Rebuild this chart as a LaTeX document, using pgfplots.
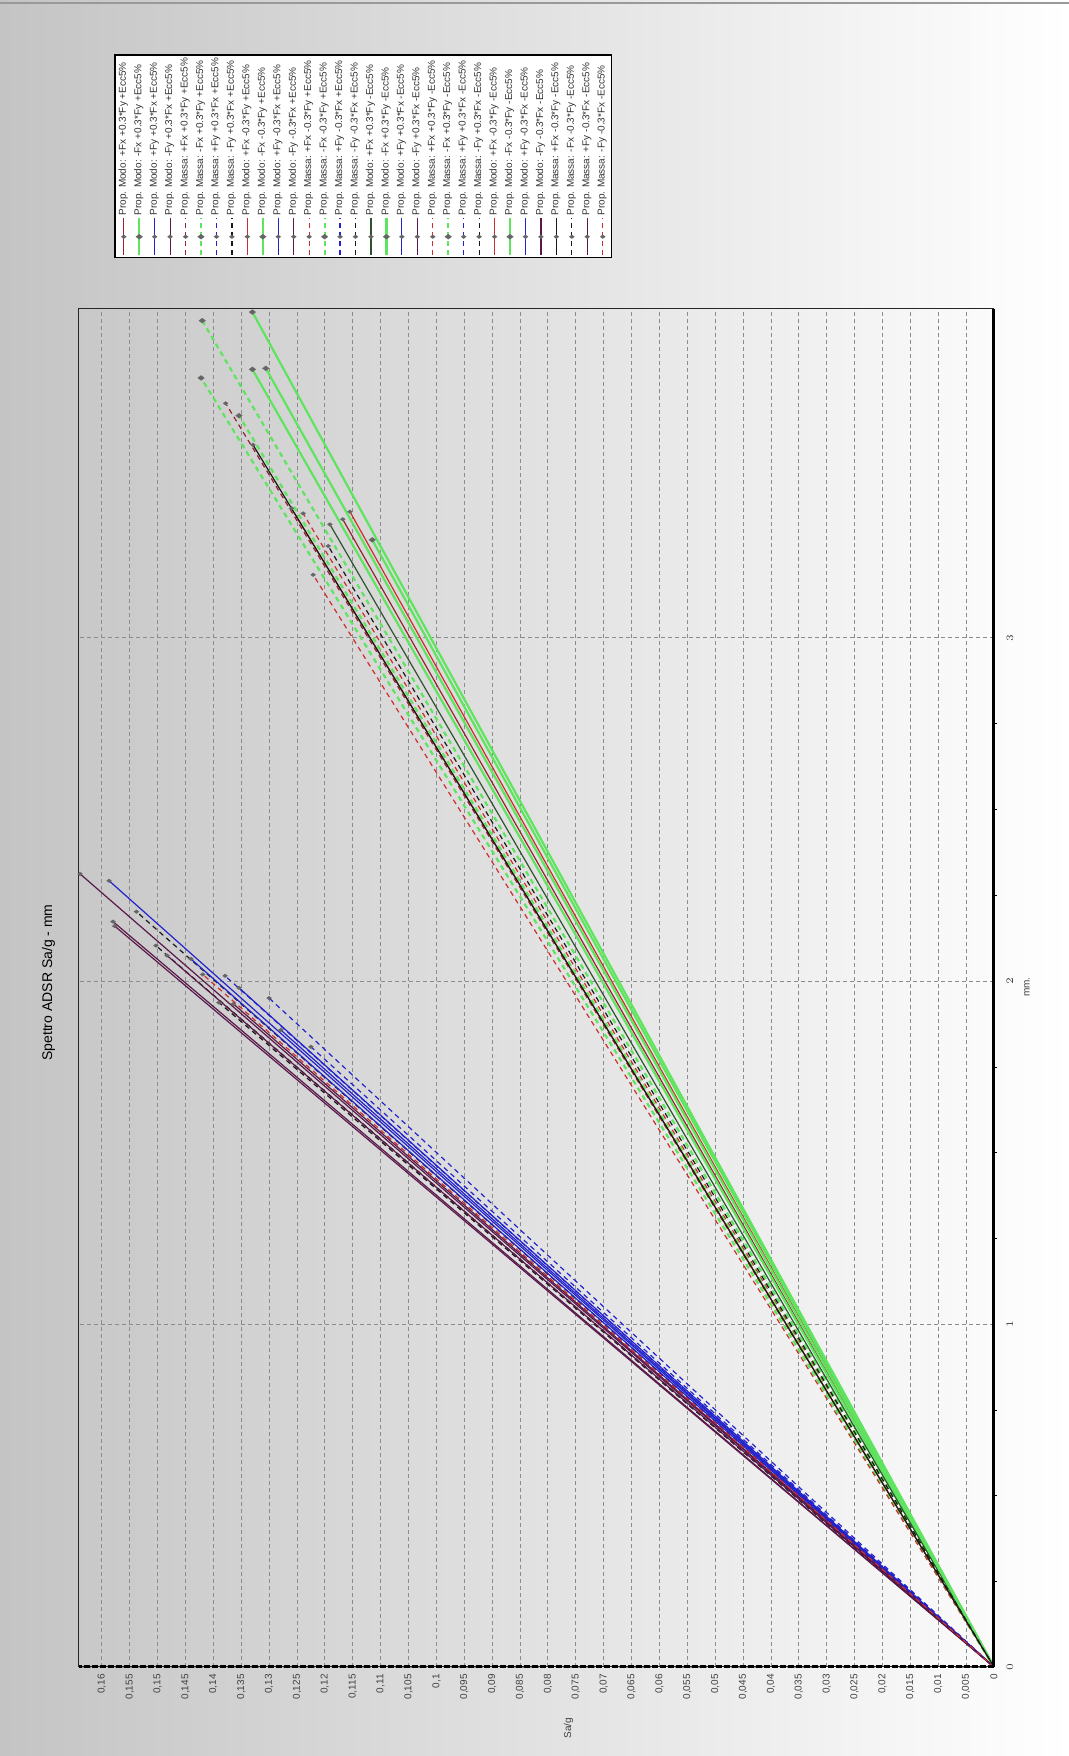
\documentclass[border=0pt]{standalone}
\usepackage{fontspec}
\setmainfont{Liberation Sans}
\usepackage{pgfplots}
\pgfplotsset{compat=1.18}
\definecolor{cDR}{RGB}{150,35,45}
\definecolor{cR}{RGB}{205,45,45}
\definecolor{cG}{RGB}{95,228,95}
\definecolor{cB}{RGB}{35,35,205}
\definecolor{cP}{RGB}{90,25,75}
\definecolor{cK}{RGB}{25,25,25}
\definecolor{cDG}{RGB}{45,85,45}
\definecolor{bgtop}{RGB}{196,196,196}
\pgfplotsset{
  sSol/.style={line width=0.6pt, mark=diamond*, mark size=0.9pt, mark indices={2}, mark options={solid, fill=black!60, draw=black!60}},
  sDash/.style={sSol, dash pattern=on 2.5pt off 2pt},
  sGr/.style={line width=1.1pt},
}
\begin{document}
\begin{tikzpicture}
\begin{scope}[transform canvas={rotate=90}]
\shade[top color=bgtop, bottom color=white] (0pt,0pt) rectangle (878pt,534.5pt);
\draw[gray!80, line width=0.8pt] (876.5pt,0pt) -- (876.5pt,534.5pt);
\begin{axis}[
  at={(44.5pt,37.5pt)}, anchor=south west,
  scale only axis, width=679pt, height=457.5pt,
  xmin=0, xmax=3.959, ymin=0, ymax=0.1641,
  clip=false,
  xtick={0,1,2,3}, minor x tick num=3,
  ytick={0,0.005,0.01,0.015,0.02,0.025,0.03,0.035,0.04,0.045,0.05,0.055,0.06,0.065,0.07,0.075,0.08,0.085,0.09,0.095,0.1,0.105,0.11,0.115,0.12,0.125,0.13,0.135,0.14,0.145,0.15,0.155,0.16},
  scaled y ticks=false,
  xtick pos=left, ytick pos=left,
  tick align=outside, major tick length=0pt, minor tick length=1.5pt,
  minor tick style={black},
  grid=major,
  major grid style={black!45, dash pattern=on 2pt off 1.5pt, line width=0.45pt},
  axis line style={black!85, line width=0.5pt},
  tick label style={font=\fontsize{5}{6}\selectfont, text=black!75},
  xticklabel style={anchor=center, yshift=-8pt},
  yticklabel style={anchor=east, inner sep=0pt, xshift=-3.5pt, /pgf/number format/.cd, fixed, use comma, precision=3, assume math mode=true},
  title={Spettro ADSR Sa/g - mm},
  title style={at={(axis description cs:0.504,1.0202)}, anchor=center, font=\fontsize{7}{8}\selectfont},
  xlabel={mm.},
  xlabel style={at={(axis description cs:0.5007,-0.036)}, anchor=center, font=\fontsize{5}{6}\selectfont, text=black!75},
  ylabel={Sa/g},
  ylabel style={rotate=-90, at={(axis description cs:-0.045,0.465)}, anchor=center, font=\fontsize{5}{6}\selectfont, text=black!75},
  legend image code/.code={\draw[mark repeat=2,mark phase=2,#1] plot coordinates {(0pt,0pt) (9.25pt,0pt) (18.5pt,0pt)};},
  legend cell align=left,
  legend style={at={(axis description cs:1.0373,0.9617)}, anchor=north west, draw=black, line width=0.8pt, fill=white, inner sep=0.6pt, row sep=0pt, font=\fontsize{5}{6}\selectfont, text=black!80, nodes={inner xsep=0.8pt, inner ysep=0pt, minimum height=7.725pt}},
]
\addplot[sSol, cDR] coordinates {(0,0) (3.346,0.1168)};
\addlegendentry{Prop. Modo: +Fx +0.3*Fy +Ecc5\%}
\addplot[sSol, sGr, cG] coordinates {(0,0) (3.950,0.1330)};
\addlegendentry{Prop. Modo: -Fx +0.3*Fy +Ecc5\%}
\addplot[sSol, cB] coordinates {(0,0) (2.292,0.1587)};
\addlegendentry{Prop. Modo: +Fy +0.3*Fx +Ecc5\%}
\addplot[sSol, cP] coordinates {(0,0) (2.312,0.1639)};
\addlegendentry{Prop. Modo: -Fy +0.3*Fx +Ecc5\%}
\addplot[sDash, cDR] coordinates {(0,0) (3.684,0.1378)};
\addlegendentry{Prop. Massa: +Fx +0.3*Fy +Ecc5\%}
\addplot[sDash, sGr, cG] coordinates {(0,0) (3.925,0.1420)};
\addlegendentry{Prop. Massa: -Fx +0.3*Fy +Ecc5\%}
\addplot[sDash, cB] coordinates {(0,0) (2.015,0.1379)};
\addlegendentry{Prop. Massa: +Fy +0.3*Fx +Ecc5\%}
\addplot[sDash, cK] coordinates {(0,0) (2.202,0.1538)};
\addlegendentry{Prop. Massa: -Fy +0.3*Fx +Ecc5\%}
\addplot[sSol, cR] coordinates {(0,0) (3.368,0.1155)};
\addlegendentry{Prop. Modo: +Fx -0.3*Fy +Ecc5\%}
\addplot[sSol, sGr, cG] coordinates {(0,0) (3.783,0.1330)};
\addlegendentry{Prop. Modo: -Fx -0.3*Fy +Ecc5\%}
\addplot[sSol, cB] coordinates {(0,0) (2.064,0.1440)};
\addlegendentry{Prop. Modo: +Fy -0.3*Fx +Ecc5\%}
\addplot[sSol, cP] coordinates {(0,0) (2.173,0.1580)};
\addlegendentry{Prop. Modo: -Fy -0.3*Fx +Ecc5\%}
\addplot[sDash, cR] coordinates {(0,0) (3.363,0.1239)};
\addlegendentry{Prop. Massa: +Fx -0.3*Fy +Ecc5\%}
\addplot[sDash, sGr, cG] coordinates {(0,0) (3.758,0.1422)};
\addlegendentry{Prop. Massa: -Fx -0.3*Fy +Ecc5\%}
\addplot[sDash, cB] coordinates {(0,0) (1.808,0.1225)};
\addlegendentry{Prop. Massa: +Fy -0.3*Fx +Ecc5\%}
\addplot[sDash, cK] coordinates {(0,0) (2.103,0.1503)};
\addlegendentry{Prop. Massa: -Fy -0.3*Fx +Ecc5\%}
\addplot[sSol, cDG] coordinates {(0,0) (3.331,0.1191)};
\addlegendentry{Prop. Modo: +Fx +0.3*Fy -Ecc5\%}
\addplot[sSol, sGr, cG] coordinates {(0,0) (3.786,0.1306)};
\addlegendentry{Prop. Modo: -Fx +0.3*Fy -Ecc5\%}
\addplot[sSol, cB] coordinates {(0,0) (1.980,0.1354)};
\addlegendentry{Prop. Modo: +Fy +0.3*Fx -Ecc5\%}
\addplot[sSol, cP] coordinates {(0,0) (2.160,0.1577)};
\addlegendentry{Prop. Modo: -Fy +0.3*Fx -Ecc5\%}
\addplot[sDash, cR] coordinates {(0,0) (3.184,0.1221)};
\addlegendentry{Prop. Massa: +Fx +0.3*Fy -Ecc5\%}
\addplot[sDash, sGr, cG] coordinates {(0,0) (3.648,0.1354)};
\addlegendentry{Prop. Massa: -Fx +0.3*Fy -Ecc5\%}
\addplot[sDash, cB] coordinates {(0,0) (1.950,0.1300)};
\addlegendentry{Prop. Massa: +Fy +0.3*Fx -Ecc5\%}
\addplot[sDash, cK] coordinates {(0,0) (1.937,0.1390)};
\addlegendentry{Prop. Massa: -Fy +0.3*Fx -Ecc5\%}
\addplot[sSol, cR] coordinates {(0,0) (3.378,0.1260)};
\addlegendentry{Prop. Modo: +Fx -0.3*Fy -Ecc5\%}
\addplot[sSol, sGr, cG] coordinates {(0,0) (3.286,0.1115)};
\addlegendentry{Prop. Modo: -Fx -0.3*Fy -Ecc5\%}
\addplot[sSol, cB] coordinates {(0,0) (1.857,0.1279)};
\addlegendentry{Prop. Modo: +Fy -0.3*Fx -Ecc5\%}
\addplot[sSol, cP] coordinates {(0,0) (2.074,0.1483)};
\addlegendentry{Prop. Modo: -Fy -0.3*Fx -Ecc5\%}
\addplot[sSol, cK] coordinates {(0,0) (3.563,0.1329)};
\addlegendentry{Prop. Massa: +Fx -0.3*Fy -Ecc5\%}
\addplot[sDash, cK] coordinates {(0,0) (3.268,0.1194)};
\addlegendentry{Prop. Massa: -Fx -0.3*Fy -Ecc5\%}
\addplot[sSol, cP] coordinates {(0,0) (1.933,0.1364)};
\addlegendentry{Prop. Massa: +Fy -0.3*Fx -Ecc5\%}
\addplot[sDash, cR] coordinates {(0,0) (2.019,0.1419)};
\addlegendentry{Prop. Massa: -Fy -0.3*Fx -Ecc5\%}
\draw[black, line width=1.5pt] (rel axis cs:0,0) -- (rel axis cs:1,0);
\draw[black, line width=1.5pt, dash pattern=on 3pt off 1pt] (rel axis cs:0,0) -- (rel axis cs:0,1);
\end{axis}
\end{scope}
\pgfresetboundingbox
\useasboundingbox (-534.5pt,0pt) rectangle (0pt,878pt);
\end{tikzpicture}
\end{document}
